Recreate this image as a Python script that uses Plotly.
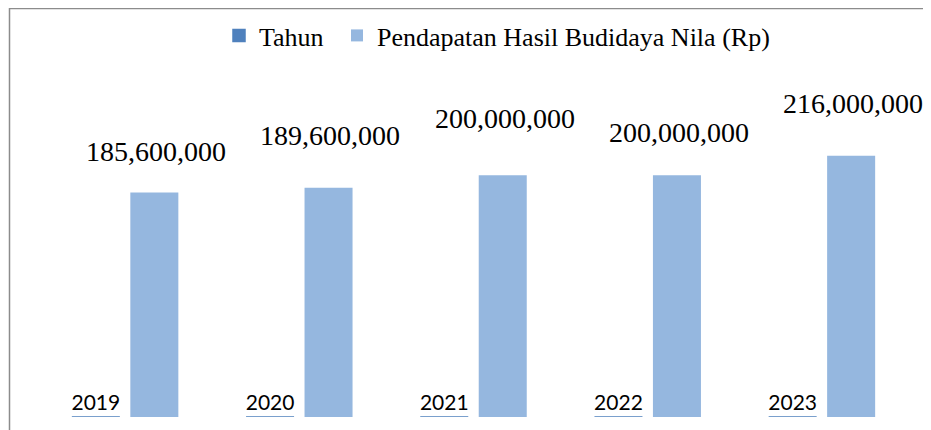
import plotly.graph_objects as go

years = ["2019", "2020", "2021", "2022", "2023"]
tahun_values = [2019, 2020, 2021, 2022, 2023]
pendapatan_values = [185600000, 189600000, 200000000, 200000000, 216000000]
series_names = ["Tahun", "Pendapatan Hasil Budidaya Nila (Rp)"]

# label placement (style only): vertical shift of each value label in px
label_yshift = [41, 52, 57, 43, 52]

# the page body adds an 8px margin, so the figure is 8px smaller
OFF = 8
W, H = 931 - OFF, 430 - OFF
ML, MR, MT, MB = 38 - OFF, 22, 80 - OFF, 13
PW = W - ML - MR
PH = H - MT - MB

fig = go.Figure()
fig.add_trace(go.Bar(
    x=years, y=tahun_values, name=series_names[0], legend="legend",
    marker=dict(color="#4F81BD", line=dict(color="#4F81BD", width=1.5)),
    text=[str(v) for v in tahun_values], textposition="outside",
    textfont=dict(family="Lato", size=21, color="black"),
    constraintext="none", cliponaxis=False,
))
fig.add_trace(go.Bar(
    x=years, y=pendapatan_values, name=series_names[1], legend="legend2",
    marker=dict(color="#95B7DF", line=dict(width=0)),
))

annotations = []
for i, (yr, v) in enumerate(zip(years, pendapatan_values)):
    annotations.append(dict(
        x=i, y=v, xref="x", yref="y", text=f"{v:,}", showarrow=False,
        xshift=31, yshift=label_yshift[i], yanchor="middle", xanchor="center",
        font=dict(family="Liberation Serif", size=28, color="black"),
    ))

def px_x(p):
    return (p - OFF - ML) / PW

def px_y(p):
    return (H - MB - (p - OFF)) / PH

fig.add_shape(type="rect", xref="paper", yref="paper",
              x0=px_x(9.5), x1=px_x(945), y0=px_y(445), y1=px_y(8.5),
              line=dict(color="#8C8C8C", width=1.5), fillcolor="rgba(0,0,0,0)")

hidden_axis = dict(showgrid=False, zeroline=False, showline=False,
                   showticklabels=False, ticks="")

legend_style = dict(orientation="h", xanchor="left", yanchor="top",
                    y=px_y(12),
                    font=dict(family="Liberation Serif", size=26, color="black"),
                    bgcolor="rgba(0,0,0,0)")

fig.update_layout(
    width=W, height=H,
    margin=dict(l=ML, r=MR, t=MT, b=MB, autoexpand=False),
    paper_bgcolor="white", plot_bgcolor="white",
    barmode="group", bargap=0.3286, bargroupgap=0.179,
    showlegend=True,
    annotations=annotations,
    legend=dict(x=px_x(219), **legend_style),
    legend2=dict(x=px_x(337), **legend_style),
    xaxis=dict(type="category", range=[-0.5, 4.5], **hidden_axis),
    yaxis=dict(range=[0, PH / 1.209e-6], **hidden_axis),
)

fig.write_html("out.html")
